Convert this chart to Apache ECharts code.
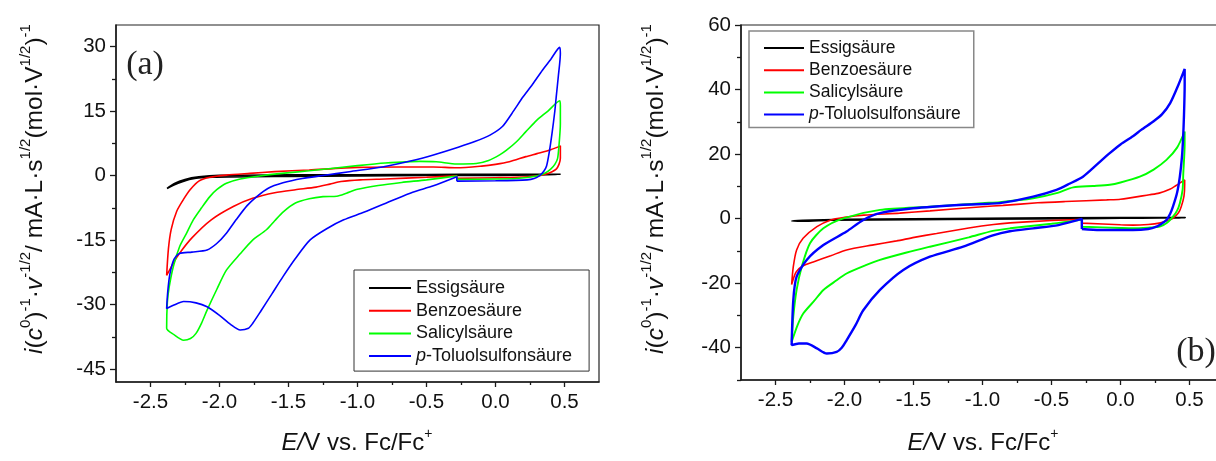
<!DOCTYPE html>
<html><head><meta charset="utf-8">
<script src="https://cdn.jsdelivr.net/npm/echarts@6/dist/echarts.min.js"></script>
<style>html,body{margin:0;padding:0;background:#fff}#c{width:1216px;height:461px}</style>
</head><body><div id="c"></div>
<script>
// ---------- names / colours ----------
const seriesNames = ['Essigsäure', 'Benzoesäure', 'Salicylsäure', 'p-Toluolsulfonsäure'];
const seriesColors = ['#000000', '#ff0000', '#00ff00', '#0000ff'];

// ---------- tick values ----------
const xTickValues = [-2.5, -2.0, -1.5, -1.0, -0.5, 0.0, 0.5];
const xMinorValues = [-2.25, -1.75, -1.25, -0.75, -0.25, 0.25];
const yTickValuesA = [-45, -30, -15, 0, 15, 30];
const yMinorValuesA = [-37.5, -22.5, -7.5, 7.5, 22.5];
const yTickValuesB = [-40, -20, 0, 20, 40, 60];
const yMinorValuesB = [-50, -30, -10, 10, 30, 50];

// ---------- panel (a) data : [E / V, i] ----------
const essigA = [[-0.28,0.0],[0.0,0.05],[0.3,0.15],[0.47,0.3],[0.47,0.4],[0.0,0.3],[-0.5,0.25],[-1.0,0.2],[-1.5,0.15],[-2.0,0.05],[-2.15,-0.3],[-2.25,-0.9],[-2.33,-1.9],[-2.38,-3.0],[-2.3,-1.8],[-2.2,-0.8],[-2.05,-0.4],[-1.5,-0.2],[-1.0,-0.1],[-0.5,0.0],[-0.28,0.0]];
const benzoeA = [[-0.28,-0.65],[0.0,-0.5],[0.15,-0.4],[0.3,-0.1],[0.36,0.3],[0.41,0.9],[0.44,1.5],[0.46,2.6],[0.47,4.0],[0.47,6.9],[0.40,6.0],[0.3,5.1],[0.22,4.4],[0.1,3.2],[0.0,2.6],[-0.1,2.2],[-0.28,1.8],[-0.45,2.0],[-0.7,2.0],[-1.0,1.9],[-1.35,1.3],[-1.6,0.9],[-1.78,0.5],[-1.95,0.1],[-2.07,-0.4],[-2.15,-1.3],[-2.21,-3.2],[-2.26,-5.5],[-2.31,-8.3],[-2.35,-12.5],[-2.37,-17],[-2.383,-23.2],[-2.335,-20.4],[-2.29,-18.1],[-2.2,-14.5],[-2.06,-10.3],[-1.9,-7.2],[-1.76,-5.3],[-1.6,-4.0],[-1.45,-3.3],[-1.3,-2.7],[-1.2,-2.0],[-1.12,-1.4],[-0.98,-1.0],[-0.8,-0.8],[-0.5,-0.4],[-0.28,-0.05],[-0.28,-0.65]];
const salicylA = [[-0.28,-0.9],[0.0,-0.8],[0.15,-0.7],[0.3,-0.1],[0.36,0.6],[0.4,1.5],[0.43,2.6],[0.45,4.0],[0.46,7],[0.47,12],[0.47,16.2],[0.465,17.4],[0.38,15.0],[0.3,12.9],[0.22,10.2],[0.15,7.8],[0.08,5.9],[0.03,4.8],[-0.05,3.5],[-0.14,2.8],[-0.28,2.7],[-0.43,3.2],[-0.55,3.3],[-0.8,2.9],[-1.0,2.3],[-1.35,1.1],[-1.55,0.5],[-1.71,-0.1],[-1.85,-0.8],[-1.95,-1.8],[-2.02,-3.3],[-2.07,-4.9],[-2.13,-7.5],[-2.19,-10.3],[-2.24,-13.5],[-2.29,-16.6],[-2.335,-21.2],[-2.365,-26],[-2.378,-29.5],[-2.383,-35.5],[-2.33,-37.0],[-2.26,-38.3],[-2.21,-37.9],[-2.17,-36.7],[-2.13,-34.3],[-2.09,-31.3],[-2.02,-26.5],[-1.95,-22.0],[-1.85,-18.2],[-1.76,-15.0],[-1.66,-12.6],[-1.6,-10.5],[-1.54,-8.5],[-1.45,-6.4],[-1.35,-5.4],[-1.25,-4.9],[-1.15,-4.8],[-1.08,-4.1],[-1.0,-3.2],[-0.85,-2.3],[-0.68,-1.6],[-0.5,-1.0],[-0.28,-0.1],[-0.28,-0.9]];
const toluolA = [[-0.28,-1.3],[0.0,-1.2],[0.23,-1.0],[0.28,-0.7],[0.32,0.0],[0.35,1.0],[0.37,2.2],[0.39,5.5],[0.41,9.9],[0.43,15],[0.44,18.3],[0.455,23],[0.47,28.4],[0.465,29.8],[0.4,27.0],[0.34,24.5],[0.27,21.3],[0.2,18.3],[0.12,14.5],[0.05,11.4],[-0.04,9.4],[-0.15,7.9],[-0.27,6.6],[-0.45,4.8],[-0.6,3.5],[-0.82,2.0],[-1.06,0.9],[-1.25,0.0],[-1.4,-0.7],[-1.54,-1.7],[-1.65,-3.0],[-1.73,-4.9],[-1.8,-7.0],[-1.88,-10.3],[-1.95,-13.4],[-2.02,-15.8],[-2.09,-17.3],[-2.2,-17.8],[-2.29,-18.1],[-2.33,-19.5],[-2.36,-23],[-2.375,-27],[-2.383,-30.9],[-2.33,-30.1],[-2.26,-29.3],[-2.17,-29.6],[-2.09,-30.5],[-2.0,-32.5],[-1.92,-34.6],[-1.85,-35.9],[-1.79,-35.5],[-1.76,-34.4],[-1.7,-31.5],[-1.62,-27.5],[-1.54,-23.5],[-1.45,-19.3],[-1.345,-15.0],[-1.22,-12.3],[-1.1,-10.3],[-0.95,-8.5],[-0.74,-5.7],[-0.6,-3.9],[-0.45,-2.4],[-0.28,-0.3],[-0.28,-1.3]];

// ---------- panel (b) data ----------
const essigB = [[-0.28,0.0],[0.0,0.1],[0.3,0.2],[0.47,0.3],[0.47,0.5],[0.0,0.3],[-1.0,0.1],[-2.0,-0.2],[-2.3,-0.5],[-2.383,-0.7],[-2.3,-0.8],[-2.1,-0.5],[-1.5,-0.3],[-1.0,-0.2],[-0.28,0.0]];
const benzoeB = [[-0.28,-1.4],[0.0,-1.9],[0.09,-2.0],[0.2,-1.8],[0.28,-1.4],[0.34,-0.6],[0.38,0.1],[0.42,1.8],[0.44,3.7],[0.46,7],[0.465,10.5],[0.465,12.0],[0.4,10.2],[0.357,9.1],[0.28,7.9],[0.21,7.4],[0.0,6.0],[-0.1,5.8],[-0.4,5.3],[-0.6,4.9],[-0.85,4.1],[-1.0,3.7],[-1.38,2.4],[-1.6,1.7],[-1.86,1.1],[-2.0,0.4],[-2.1,-0.4],[-2.2,-2.5],[-2.3,-6.1],[-2.347,-9.7],[-2.371,-14.9],[-2.383,-20.4],[-2.35,-16.5],[-2.3,-14.6],[-2.226,-13.4],[-2.1,-11.5],[-1.985,-9.7],[-1.8,-8.2],[-1.623,-6.9],[-1.495,-5.8],[-1.333,-4.6],[-1.1,-2.9],[-0.92,-1.8],[-0.8,-1.3],[-0.5,-0.6],[-0.28,-0.2],[-0.28,-1.4]];
const salicylB = [[-0.28,-2.5],[0.0,-2.9],[0.09,-3.0],[0.2,-2.8],[0.284,-2.5],[0.34,-1.2],[0.38,0.6],[0.41,2.5],[0.43,4.8],[0.45,9],[0.455,14],[0.465,22.9],[0.465,27.0],[0.41,22.0],[0.333,18.2],[0.24,15.2],[0.14,13.0],[0.0,11.2],[-0.078,10.5],[-0.2,10.1],[-0.343,9.7],[-0.464,7.9],[-0.633,6.3],[-0.875,5.1],[-1.0,4.8],[-1.381,3.7],[-1.743,2.7],[-2.008,0.1],[-2.153,-3.0],[-2.25,-7.6],[-2.31,-14.9],[-2.347,-22.1],[-2.371,-30.4],[-2.383,-38.2],[-2.34,-33],[-2.299,-29.4],[-2.22,-25.5],[-2.153,-22.1],[-2.06,-19.2],[-1.985,-17.0],[-1.85,-14.5],[-1.743,-12.8],[-1.55,-10.5],[-1.381,-8.7],[-1.1,-5.8],[-0.925,-3.8],[-0.8,-3.0],[-0.5,-1.6],[-0.28,-0.3],[-0.28,-2.5]];
const toluolB = [[-0.28,-3.2],[-0.15,-3.5],[0.09,-3.5],[0.2,-3.2],[0.26,-2.5],[0.3,-1.5],[0.333,-0.4],[0.36,1.5],[0.38,3.7],[0.41,8],[0.43,13.0],[0.445,19],[0.453,24.4],[0.46,32],[0.465,41.5],[0.465,46.4],[0.42,41.5],[0.36,35.8],[0.3,32.3],[0.24,30.2],[0.15,27.5],[0.09,25.5],[0.0,23.0],[-0.078,20.3],[-0.17,16.8],[-0.272,13.0],[-0.37,10.8],[-0.464,8.9],[-0.633,6.8],[-0.875,4.8],[-1.14,4.3],[-1.502,3.2],[-1.743,1.7],[-1.864,-0.4],[-1.985,-4.0],[-2.153,-8.2],[-2.274,-12.8],[-2.347,-18.0],[-2.371,-25.2],[-2.383,-39.2],[-2.33,-38.7],[-2.274,-38.7],[-2.2,-40.2],[-2.128,-41.8],[-2.057,-41.3],[-2.02,-40],[-1.985,-37.7],[-1.92,-33],[-1.864,-28.4],[-1.743,-22.1],[-1.574,-15.9],[-1.381,-11.8],[-1.14,-8.7],[-0.925,-5.2],[-0.802,-3.9],[-0.633,-3.0],[-0.45,-2.0],[-0.28,-0.1],[-0.28,-3.2]];

const panelAData = [essigA, benzoeA, salicylA, toluolA];
const panelBData = [essigB, benzoeB, salicylB, toluolB];

// ---------- build ----------
const FONT = 'Liberation Sans';
const AX = '#1a1a1a';

function mainX(gi) {
  return { type: 'value', gridIndex: gi, min: -2.75, max: 0.75, position: 'bottom',
    axisLine: { show: true, onZero: false, lineStyle: { color: AX, width: 1.5 } },
    axisTick: { show: true, length: 5, customValues: xTickValues, lineStyle: { color: AX, width: 1.3 } },
    axisLabel: { customValues: xTickValues, formatter: v => Number(v).toFixed(1), fontSize: 20.5, fontFamily: FONT, color: '#111', margin: 10 },
    splitLine: { show: false } };
}
function minorX(gi) {
  return { type: 'value', gridIndex: gi, min: -2.75, max: 0.75, position: 'bottom',
    axisLine: { show: false, onZero: false },
    axisTick: { show: true, length: 3, customValues: xMinorValues, lineStyle: { color: AX, width: 1.3 } },
    axisLabel: { show: false }, splitLine: { show: false } };
}
function mainY(gi, min, max, ticks) {
  return { type: 'value', gridIndex: gi, min: min, max: max, position: 'left',
    axisLine: { show: true, onZero: false, lineStyle: { color: AX, width: 1.5 } },
    axisTick: { show: true, length: 6, customValues: ticks, lineStyle: { color: AX, width: 1.3 } },
    axisLabel: { customValues: ticks, fontSize: 20.5, fontFamily: FONT, color: '#111', margin: 10 },
    splitLine: { show: false } };
}
function minorY(gi, min, max, ticks) {
  return { type: 'value', gridIndex: gi, min: min, max: max, position: 'left',
    axisLine: { show: false, onZero: false },
    axisTick: { show: true, length: 4, customValues: ticks, lineStyle: { color: AX, width: 1.3 } },
    axisLabel: { show: false }, splitLine: { show: false } };
}

const series = [];
panelAData.forEach((d, i) => series.push({
  name: seriesNames[i], type: 'line', xAxisIndex: 0, yAxisIndex: 0, data: d,
  showSymbol: false, symbol: 'none', smooth: 0.25, clip: true,
  lineStyle: { color: seriesColors[i], width: 1.6 }, itemStyle: { color: seriesColors[i] }
}));
const widthsB = [1.6, 1.6, 1.9, 2.4];
panelBData.forEach((d, i) => series.push({
  name: seriesNames[i], type: 'line', xAxisIndex: 1, yAxisIndex: 1, data: d,
  showSymbol: false, symbol: 'none', smooth: 0.25, clip: true,
  lineStyle: { color: seriesColors[i], width: widthsB[i] }, itemStyle: { color: seriesColors[i] }
}));

const legendFormatter = n => n.startsWith('p-') ? '{it|p}-' + n.slice(2) : n;

const yTitleText = '{it|i}({it|c}{sup|0}){sup|-1}·{it|v}{sup|-1/2}/ mA·L·s{sup|1/2}(mol·V{sup|1/2}){sup|-1}';
const xTitleText = '{it|E/}V vs. Fc/Fc{sup|+}';

function yTitle(x) {
  return { type: 'text', x: x, y: 189, rotation: Math.PI / 2,
    style: { text: yTitleText,
      fontFamily: FONT, fontSize: 24.5, lineHeight: 34, fill: '#111', align: 'center', verticalAlign: 'middle',
      rich: { it: { fontStyle: 'italic', fontFamily: FONT, fontSize: 24.5, lineHeight: 34 },
              sup: { fontFamily: FONT, fontSize: 15, lineHeight: 15, verticalAlign: 'top' } } } };
}
function xTitle(x) {
  return { type: 'text', x: x, y: 443,
    style: { text: xTitleText, fontFamily: FONT, fontSize: 24, lineHeight: 32, fill: '#111',
      align: 'center', verticalAlign: 'middle',
      rich: { it: { fontStyle: 'italic', fontFamily: FONT, fontSize: 24, lineHeight: 32 },
              sup: { fontFamily: FONT, fontSize: 14, lineHeight: 14, verticalAlign: 'top' } } } };
}

const option = {
  animation: false,
  backgroundColor: '#ffffff',
  grid: [
    { left: 116, top: 25, width: 483, height: 357, show: true, borderColor: '#222', borderWidth: 1.2, backgroundColor: 'transparent', outerBoundsMode: 'none', containLabel: false },
    { left: 741, top: 25, width: 483, height: 355, show: true, borderColor: '#222', borderWidth: 1.2, backgroundColor: 'transparent', outerBoundsMode: 'none', containLabel: false }
  ],
  xAxis: [mainX(0), mainX(1), minorX(0), minorX(1)],
  yAxis: [mainY(0, -48, 35, yTickValuesA), mainY(1, -50, 60, yTickValuesB),
          minorY(0, -48, 35, yMinorValuesA), minorY(1, -50, 60, yMinorValuesB)],
  legend: [
    { orient: 'vertical', left: 354, top: 270, padding: [9, 17, 6, 15], itemGap: 4.7, itemWidth: 42, itemHeight: 2,
      icon: 'rect', borderColor: '#333', borderWidth: 1, backgroundColor: '#fff', selectedMode: false,
      formatter: legendFormatter, data: seriesNames,
      textStyle: { fontSize: 18, fontFamily: FONT, color: '#111', lineHeight: 18,
        rich: { it: { fontStyle: 'italic', fontSize: 18, fontFamily: FONT, lineHeight: 18 } } } },
    { orient: 'vertical', left: 749, top: 31, padding: [8, 13, 4, 15], itemGap: 4.2, itemWidth: 40, itemHeight: 2,
      icon: 'rect', borderColor: '#888', borderWidth: 1.5, backgroundColor: '#fff', selectedMode: false,
      formatter: legendFormatter, data: seriesNames,
      textStyle: { fontSize: 17.5, fontFamily: FONT, color: '#111', lineHeight: 17.5,
        rich: { it: { fontStyle: 'italic', fontSize: 17.5, fontFamily: FONT, lineHeight: 17.5 } } } }
  ],
  graphic: [
    yTitle(35), yTitle(656), xTitle(357), xTitle(983),
    { type: 'text', x: 145, y: 65, style: { text: '(a)', fontFamily: 'Liberation Serif', fontSize: 34, fill: '#222', align: 'center', verticalAlign: 'middle' } },
    { type: 'text', x: 1196, y: 352, style: { text: '(b)', fontFamily: 'Liberation Serif', fontSize: 34, fill: '#222', align: 'center', verticalAlign: 'middle' } }
  ],
  series: series
};

const chart = echarts.init(document.getElementById('c'), null, { renderer: 'canvas' });
chart.setOption(option);
</script>
</body></html>
